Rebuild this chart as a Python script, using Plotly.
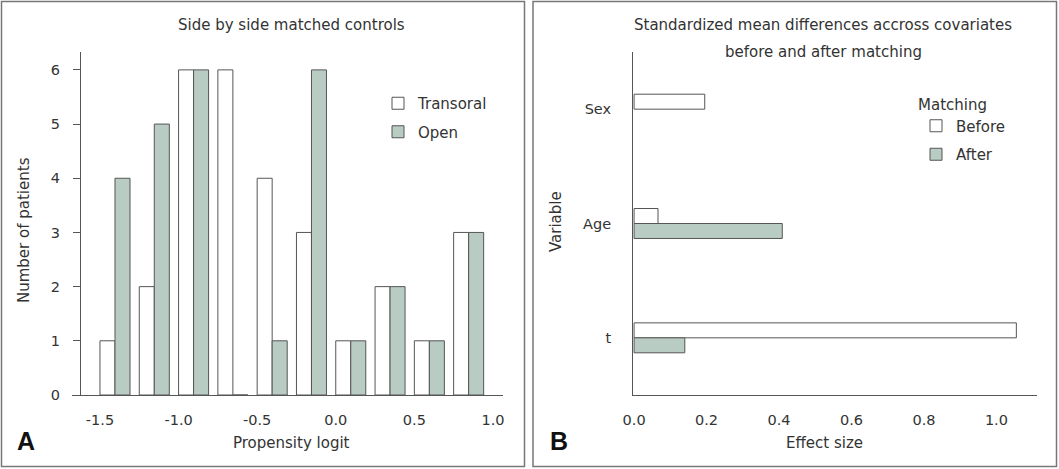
import plotly.graph_objects as go

# ---- data ----
bin_starts = [-1.5, -1.25, -1.0, -0.75, -0.5, -0.25, 0.0, 0.25, 0.5, 0.75]
transoral = [1, 2, 6, 6, 4, 3, 1, 2, 1, 3]
open_ = [4, 5, 6, 0, 1, 6, 1, 2, 1, 3]

variables = ["Sex", "Age", "t"]
smd_before = [0.195, 0.066, 1.055]
smd_after = [None, 0.409, 0.14]

x_ticks_a = [-1.5, -1.0, -0.5, 0.0, 0.5, 1.0]
x_ticks_b = [0.0, 0.2, 0.4, 0.6, 0.8, 1.0]
y_ticks_a = [0, 1, 2, 3, 4, 5, 6]

W, H = 1059, 469
def px(x):
    return x / W
def py(y):
    return 1 - y / H

FONT = "DejaVu Sans"
TXT = "#333333"
EDGE = "#555555"
GREEN = "#b9ccc3"
BAR_W = 0.0955
BAR_H = 0.131

fig = go.Figure()

# Panel A
fig.add_trace(go.Bar(x=bin_starts, y=transoral, name="Transoral", offset=0, width=BAR_W,
                     marker=dict(color="white", line=dict(color=EDGE, width=1)),
                     xaxis="x", yaxis="y", legend="legend", legendgroup="a1"))
fig.add_trace(go.Bar(x=bin_starts, y=open_, name="Open", offset=BAR_W, width=BAR_W,
                     marker=dict(color=GREEN, line=dict(color=EDGE, width=1)),
                     xaxis="x", yaxis="y", legend="legend", legendgroup="a2"))

# Panel B
fig.add_trace(go.Bar(y=variables, x=smd_before, name="Before", orientation="h", offset=0, width=BAR_H,
                     marker=dict(color="white", line=dict(color=EDGE, width=1)),
                     xaxis="x2", yaxis="y2", legend="legend2", legendgroup="b1"))
fig.add_trace(go.Bar(y=variables, x=smd_after, name="After", orientation="h", offset=-BAR_H, width=BAR_H,
                     marker=dict(color=GREEN, line=dict(color=EDGE, width=1)),
                     xaxis="x2", yaxis="y2", legend="legend2", legendgroup="b2"))

axis_common = dict(showgrid=False, zeroline=False, showline=True, linecolor=EDGE, linewidth=1,
                   automargin=False,
                   tickfont=dict(family=FONT, size=14.5, color=TXT))

fig.update_layout(
    width=W, height=H,
    margin=dict(l=0, r=0, t=0, b=0, autoexpand=False),
    paper_bgcolor="white", plot_bgcolor="white",
    barmode="overlay",
    font=dict(family=FONT, size=15, color=TXT),
    xaxis=dict(domain=[px(72), px(503)], range=[-1.678, 1.064], anchor="y",
               tickvals=x_ticks_a, ticktext=["%.1f" % v for v in x_ticks_a],
               ticks="", ticklabelstandoff=12, **axis_common),
    yaxis=dict(domain=[py(395), py(52)], range=[0, 6.33], anchor="free", position=px(80),
               tickvals=y_ticks_a, ticks="outside", ticklen=7, tickcolor=EDGE,
               ticklabelstandoff=10, **axis_common),
    xaxis2=dict(domain=[px(633), px(1037)], range=[-0.003, 1.112], anchor="y2",
                tickvals=x_ticks_b, ticktext=["%.1f" % v for v in x_ticks_b],
                ticks="", ticklabelstandoff=12, **axis_common),
    yaxis2=dict(domain=[py(395), py(52)], range=[-0.5, 2.5], anchor="x2",
                type="category", categoryorder="array", categoryarray=["t", "Age", "Sex"],
                ticks="", ticklabelstandoff=18, **axis_common),
    legend=dict(x=px(378), y=py(87), xanchor="left", yanchor="top", bgcolor="rgba(0,0,0,0)",
                traceorder="grouped", tracegroupgap=6,
                font=dict(family=FONT, size=15, color=TXT)),
    legend2=dict(x=px(916), y=py(90), xanchor="left", yanchor="top", bgcolor="rgba(0,0,0,0)",
                 traceorder="grouped", tracegroupgap=6,
                 title=dict(text="Matching", font=dict(family=FONT, size=15, color=TXT)),
                 font=dict(family=FONT, size=15, color=TXT)),
    showlegend=True,
)

# panel borders
for x0, x1 in [(1.5, 524.5), (533, 1056.5)]:
    fig.add_shape(type="rect", xref="paper", yref="paper", x0=px(x0), x1=px(x1), y0=py(466.5), y1=py(1.5),
                  line=dict(color="#777777", width=1.5), fillcolor="rgba(0,0,0,0)", layer="below")

ann = [
    ("Side by side matched controls", 291, 25, 0),
    ("Standardized mean differences accross covariates", 823, 25, 0),
    ("before and after matching", 823, 52, 0),
    ("Propensity logit", 291, 443, 0),
    ("Effect size", 824, 443, 0),
    ("Number of patients", 24, 230, -90),
    ("Variable", 556, 222, -90),
]
for text, x, y, ang in ann:
    fig.add_annotation(text=text, x=px(x), y=py(y), xref="paper", yref="paper", showarrow=False,
                       textangle=ang, xanchor="center", yanchor="middle",
                       font=dict(family=FONT, size=15, color=TXT))

for text, x in [("A", 26), ("B", 559)]:
    fig.add_annotation(text="<b>%s</b>" % text, x=px(x), y=py(441), xref="paper", yref="paper",
                       showarrow=False, xanchor="center", yanchor="middle",
                       font=dict(family="Liberation Sans", size=25, color="#111111"))

fig.write_html("out.html", config={"displayModeBar": False},
               post_script="document.body.style.margin='0';document.body.style.overflow='hidden';")
